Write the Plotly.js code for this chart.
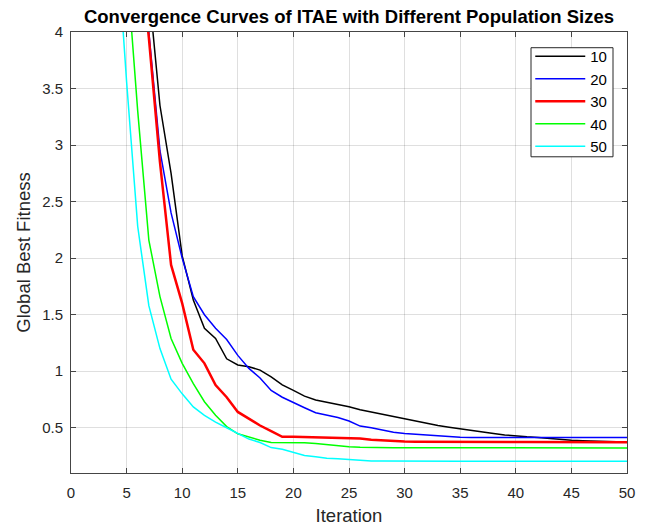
<!DOCTYPE html>
<html>
<head>
<meta charset="utf-8">
<script src="https://cdn.plot.ly/plotly-3.0.1.min.js"></script>
<style>html,body{margin:0;padding:0;background:#fff;}#chart{width:647px;height:528px;}</style>
</head>
<body>
<div id="chart"></div>
<script>
const iterations = Array.from({length: 50}, (_, i) => i + 1);
const seriesNames = ['10', '20', '30', '40', '50'];
const seriesColors = ['#000000', '#0000ff', '#ff0000', '#00ff00', '#00ffff'];

const pop10 = [14.0, 11.5, 9.6, 8.0, 6.7, 5.5, 4.38, 3.35, 2.75, 2.02,
  1.63, 1.38, 1.29, 1.11, 1.055, 1.04, 1.01, 0.95, 0.88, 0.83,
  0.78, 0.745, 0.727, 0.706, 0.686, 0.66, 0.64, 0.62, 0.594, 0.58,
  0.56, 0.535, 0.52, 0.505, 0.49, 0.475, 0.46, 0.45, 0.437, 0.426,
  0.42, 0.415, 0.405, 0.397, 0.39, 0.385, 0.381, 0.378, 0.376, 0.376];
const pop20 = [13.0, 10.8, 9.0, 7.4, 6.1, 5.0, 4.0, 2.95, 2.4, 2.0,
  1.66, 1.5, 1.38, 1.28, 1.14, 1.025, 0.94, 0.83, 0.77, 0.72,
  0.677, 0.633, 0.61, 0.59, 0.56, 0.515, 0.5, 0.48, 0.46, 0.45,
  0.443, 0.435, 0.426, 0.42, 0.417, 0.414, 0.414, 0.414, 0.414, 0.414,
  0.414, 0.414, 0.414, 0.414, 0.414, 0.414, 0.414, 0.414, 0.414, 0.414];
const pop30 = [12.0, 10.0, 8.3, 6.9, 5.7, 4.9, 3.95, 2.85, 1.94, 1.6,
  1.19, 1.07, 0.877, 0.77, 0.64, 0.58, 0.52, 0.47, 0.42, 0.42,
  0.418, 0.415, 0.412, 0.41, 0.41, 0.405, 0.395, 0.388, 0.382, 0.378,
  0.377, 0.376, 0.376, 0.376, 0.375, 0.375, 0.375, 0.375, 0.374, 0.374,
  0.374, 0.374, 0.373, 0.373, 0.373, 0.373, 0.372, 0.372, 0.372, 0.372];
const pop40 = [10.0, 8.5, 7.2, 5.9, 4.6, 3.3, 2.16, 1.66, 1.29, 1.07,
  0.89, 0.73, 0.61, 0.51, 0.447, 0.417, 0.39, 0.37, 0.37, 0.37,
  0.368, 0.36, 0.35, 0.34, 0.333, 0.328, 0.325, 0.325, 0.324, 0.324,
  0.324, 0.323, 0.323, 0.323, 0.323, 0.323, 0.323, 0.323, 0.323, 0.322,
  0.322, 0.322, 0.322, 0.322, 0.322, 0.322, 0.322, 0.322, 0.322, 0.322];
const pop50 = [9.0, 7.5, 6.3, 5.0, 3.56, 2.28, 1.58, 1.2, 0.93, 0.8,
  0.684, 0.61, 0.55, 0.5, 0.447, 0.40, 0.37, 0.325, 0.31, 0.285,
  0.255, 0.243, 0.23, 0.225, 0.217, 0.21, 0.207, 0.206, 0.205, 0.205,
  0.205, 0.205, 0.205, 0.205, 0.205, 0.205, 0.205, 0.205, 0.205, 0.205,
  0.205, 0.205, 0.205, 0.205, 0.205, 0.205, 0.205, 0.205, 0.205, 0.205];

const xTickVals = [0, 5, 10, 15, 20, 25, 30, 35, 40, 45, 50];
const yTickVals = [0.5, 1, 1.5, 2, 2.5, 3, 3.5, 4];
const yTickText = ['0.5', '1', '1.5', '2', '2.5', '3', '3.5', '4'];

const allSeries = [pop10, pop20, pop30, pop40, pop50];
const lineWidths = [1.5, 1.5, 2.5, 1.5, 1.5];

const traces = allSeries.map((vals, i) => ({
  x: iterations,
  y: vals,
  type: 'scatter',
  mode: 'lines',
  name: seriesNames[i],
  line: {color: seriesColors[i], width: lineWidths[i]}
}));

const font = 'Arial, "Liberation Sans", Helvetica, sans-serif';
const axisCommon = {
  showline: true, linecolor: '#454545', linewidth: 1,
  mirror: 'ticks', ticks: 'inside', ticklen: 5, tickcolor: '#454545', tickwidth: 1,
  showgrid: true, gridcolor: 'rgba(38,38,38,0.15)', gridwidth: 1,
  zeroline: false, automargin: false,
  tickfont: {family: font, size: 15, color: '#262626'}
};

const layout = {
  width: 647, height: 528,
  paper_bgcolor: '#ffffff', plot_bgcolor: '#ffffff',
  margin: {l: 71, r: 20, t: 32, b: 55},
  showlegend: true,
  title: {
    text: '<b>Convergence Curves of ITAE with Different Population Sizes</b>',
    font: {family: font, size: 18.5, color: '#000000'},
    x: 0.5, xref: 'paper', y: 1 - 17 / 528, yref: 'container', yanchor: 'middle'
  },
  xaxis: Object.assign({}, axisCommon, {
    range: [0, 50], tickmode: 'array', tickvals: xTickVals,
    ticklabelstandoff: 6,
    title: {text: 'Iteration', font: {family: font, size: 18.5, color: '#262626'}, standoff: 9}
  }),
  yaxis: Object.assign({}, axisCommon, {
    range: [0.1, 4], tickmode: 'array', tickvals: yTickVals, ticktext: yTickText,
    ticklabelstandoff: 4,
    title: {text: 'Global Best Fitness', font: {family: font, size: 18.5, color: '#262626'}, standoff: 6}
  }),
  shapes: [{
    type: 'rect', xref: 'paper', yref: 'paper', layer: 'above',
    x0: (531 - 71) / 556, x1: (613 - 71) / 556,
    y0: (472.7 - 156.7) / 440.7, y1: (472.7 - 47.7) / 440.7,
    fillcolor: '#ffffff', line: {color: '#262626', width: 1}
  }],
  legend: {
    x: 0.826, y: 0.982, xanchor: 'left', yanchor: 'top',
    bgcolor: 'rgba(0,0,0,0)', borderwidth: 0,
    font: {family: font, size: 15, color: '#000000'},
    itemwidth: 50, tracegroupgap: 0
  }
};

Plotly.newPlot('chart', traces, layout, {displayModeBar: false, staticPlot: true});
</script>
</body>
</html>
